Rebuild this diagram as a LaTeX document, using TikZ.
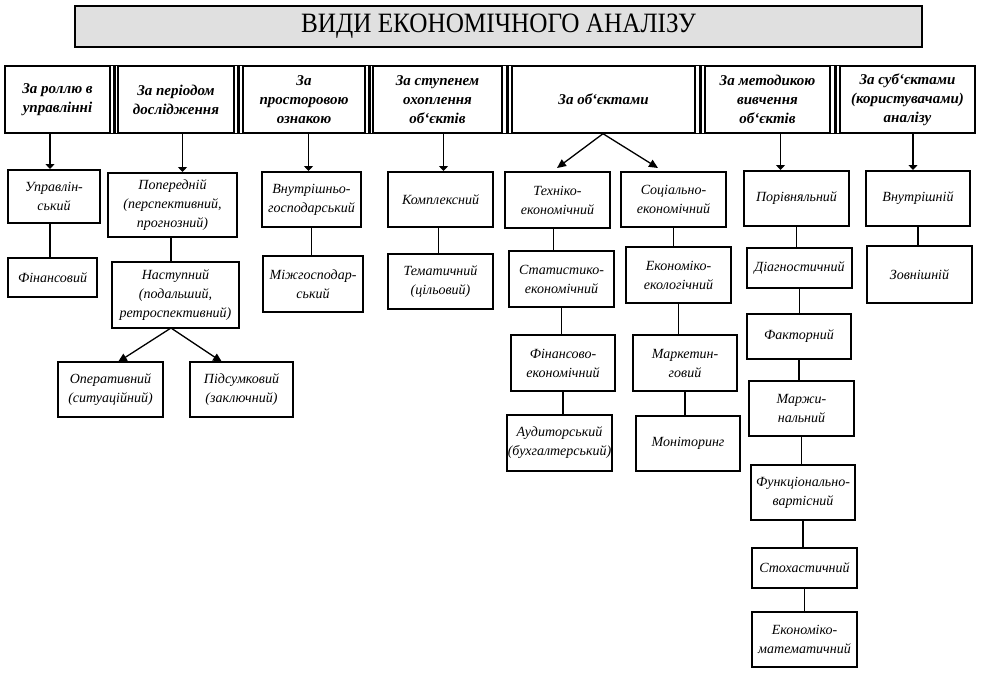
\documentclass[tikz,border=0pt]{standalone}
\usepackage{fontspec}
\setmainfont{Liberation Serif}
\usetikzlibrary{arrows.meta,calc}
\newcommand\bx[7][box]{%
  \node[#1, minimum width={(#5-#3)*1pt}, minimum height={(#6-#4)*1pt}]
    (#2) at ({(#3+#5)/2},{(#4+#6)/2}) {#7};}
\begin{document}
\begin{tikzpicture}[x=1pt,y=-1pt,
  box/.style={draw, line width=2pt, inner sep=0pt, align=center,
    font=\fontsize{14}{19}\selectfont\itshape},
  hbox/.style={draw, line width=1.4pt, inner sep=0pt, align=center,
    font=\fontsize{15}{19}\selectfont\bfseries\itshape},
  ttl/.style={draw, line width=2.2pt, fill=gray!24, inner sep=0pt,
    font=\fontsize{28}{30}\selectfont},
  conn/.style={line width=1.8pt},
  sepbar/.style={line width=3pt},
  arr/.style={line width=1.3pt, -{Triangle[length=5pt,width=9pt]}},
  tri/.style={line width=1.3pt, -{Triangle[length=9pt,width=8pt]}}
]
\useasboundingbox (0,0) rectangle (984,673);

% title
\bx[ttl]{T}{75}{6}{922}{47}{\scalebox{0.9}[1]{ВИДИ ЕКОНОМІЧНОГО АНАЛІЗУ}}

% headers
\bx[hbox]{h1}{5}{66}{110}{133}{За роллю в\\управлінні}
\bx[hbox]{h2}{118}{66}{234}{133}{За періодом\\дослідження}
\bx[hbox]{h3}{243}{66}{365}{133}{За\\просторовою\\ознакою}
\bx[hbox]{h4}{373}{66}{502}{133}{За ступенем\\охоплення\\об`єктів}
\bx[hbox]{h5}{512}{66}{695}{133}{За об`єктами}
\bx[hbox]{h6}{705}{66}{830}{133}{За методикою\\вивчення\\об`єктів}
\bx[hbox]{h7}{840}{66}{975}{133}{За суб`єктами\\(користувачами)\\аналізу}
\foreach \a/\b in {h1/h2,h2/h3,h3/h4,h4/h5,h5/h6,h6/h7}{
  \draw[sepbar] ($(\a.north east)!.5!(\b.north west)$) -- ($(\a.south east)!.5!(\b.south west)$);
  \draw[line width=1.4pt] (\a.north east) -- (\b.north west);
  \draw[line width=1.4pt] (\a.south east) -- (\b.south west);
}

% column 1
\bx{c1a}{8}{170}{100}{223}{Управлін-\\ський}
\bx{c1b}{8}{258}{97}{297}{Фінансовий}
% column 2
\bx{c2a}{108}{173}{237}{237}{Попередній\\(перспективний,\\прогнозний)}
\bx{c2b}{112}{262}{239}{328}{Наступний\\(подальший,\\ретроспективний)}
\bx{c2c}{58}{362}{163}{417}{Оперативний\\(ситуаційний)}
\bx{c2d}{190}{362}{293}{417}{Підсумковий\\(заключний)}
% column 3
\bx{c3a}{262}{172}{361}{227}{Внутрішньо-\\господарський}
\bx{c3b}{263}{256}{363}{312}{Міжгосподар-\\ський}
% column 4
\bx{c4a}{388}{172}{493}{227}{Комплексний}
\bx{c4b}{388}{254}{493}{309}{Тематичний\\(цільовий)}
% column 5 left
\bx{c5a}{505}{172}{610}{228}{Техніко-\\економічний}
\bx{c5b}{509}{251}{614}{307}{Статистико-\\економічний}
\bx{c5c}{511}{335}{615}{391}{Фінансово-\\економічний}
\bx{c5d}{507}{415}{612}{471}{Аудиторський\\(бухгалтерський)}
% column 5 right
\bx{c5e}{621}{172}{726}{227}{Соціально-\\економічний}
\bx{c5f}{626}{247}{731}{303}{Економіко-\\екологічний}
\bx{c5g}{633}{335}{737}{391}{Маркетин-\\говий}
\bx{c5h}{636}{416}{740}{471}{Моніторинг}
% column 6
\bx{c6a}{744}{171}{849}{226}{Порівняльний}
\bx{c6b}{747}{248}{852}{288}{Діагностичний}
\bx{c6c}{747}{314}{851}{359}{Факторний}
\bx{c6d}{749}{381}{854}{436}{Маржи-\\нальний}
\bx{c6e}{751}{465}{855}{520}{Функціонально-\\вартісний}
\bx{c6f}{752}{548}{857}{588}{Стохастичний}
\bx{c6g}{752}{612}{857}{667}{Економіко-\\математичний}
% column 7
\bx{c7a}{866}{171}{970}{226}{Внутрішній}
\bx{c7b}{867}{246}{972}{303}{Зовнішній}

% header arrows
\draw[arr] ([xshift=-4pt]c1a.north |- h1.south) -- ([xshift=-4pt]c1a.north);
\draw[arr] ([xshift=10pt]c2a.north |- h2.south) -- ([xshift=10pt]c2a.north);
\draw[arr] ([xshift=-3pt]c3a.north |- h3.south) -- ([xshift=-3pt]c3a.north);
\draw[arr] ([xshift=3pt]c4a.north |- h4.south) -- ([xshift=3pt]c4a.north);
\draw[arr] ([xshift=-16pt]c6a.north |- h6.south) -- ([xshift=-16pt]c6a.north);
\draw[arr] ([xshift=-5pt]c7a.north |- h7.south) -- ([xshift=-5pt]c7a.north);

% objects split
\coordinate (t5a) at (557,168);
\coordinate (t5b) at (658,168);
\draw[tri] ([xshift=-0.5pt]h5.south) -- (t5a);
\draw[tri] ([xshift=-0.5pt]h5.south) -- (t5b);

% period split
\coordinate (t2a) at (118,362);
\coordinate (t2b) at (222,362);
\coordinate (s2) at (171,328);
\draw[tri] (s2) -- (t2a);
\draw[tri] (s2) -- (t2b);

% vertical connectors
\draw[conn] ([xshift=-4pt]c1a.south) -- ([xshift=-4pt]c1a.south |- c1b.north);
\draw[conn] (s2 |- c2a.south) -- (s2 |- c2b.north);
\draw[conn] (c3a.south) -- (c3a.south |- c3b.north);
\draw[conn] ([xshift=-2pt]c4a.south) -- ([xshift=-2pt]c4a.south |- c4b.north);
\draw[conn] ([xshift=-4pt]c5a.south) -- ([xshift=-4pt]c5a.south |- c5b.north);
\draw[conn] (c5b.south) -- (c5b.south |- c5c.north);
\draw[conn] (c5c.south) -- (c5c.south |- c5d.north);
\draw[conn] (c5e.south) -- (c5e.south |- c5f.north);
\draw[conn] (c5f.south) -- (c5f.south |- c5g.north);
\draw[conn] (c5g.south) -- (c5g.south |- c5h.north);
\draw[conn] (c6a.south) -- (c6a.south |- c6b.north);
\draw[conn] (c6b.south) -- (c6b.south |- c6c.north);
\draw[conn] (c6c.south) -- (c6c.south |- c6d.north);
\draw[conn] (c6d.south) -- (c6d.south |- c6e.north);
\draw[conn] (c6e.south) -- (c6e.south |- c6f.north);
\draw[conn] (c6f.south) -- (c6f.south |- c6g.north);
\draw[conn] (c7a.south) -- (c7a.south |- c7b.north);
\end{tikzpicture}
\end{document}
